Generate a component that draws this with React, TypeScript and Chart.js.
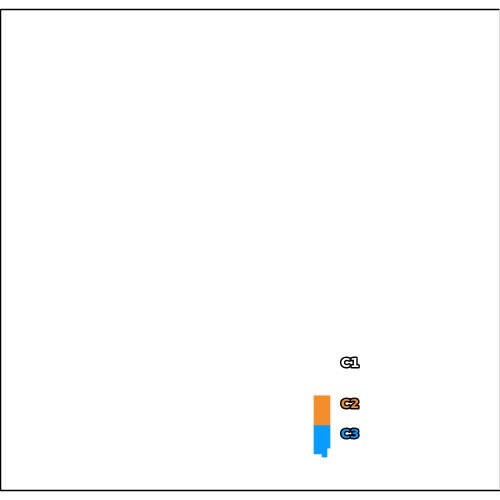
import React, { useEffect, useRef } from "react";
import { Chart, registerables } from "chart.js";

Chart.register(...registerables);

// Series (stack segments) (y axis 0..100)
const seriesLabels = ["C1", "C2", "C3"];
const seriesColors = ["#ffffff", "#f28e2b", "#0a9bff"];
const seriesX = [322, 322, 322];
const seriesLow = [19.9, 13.7, 8.9];
const seriesHigh = [28.4, 19.9, 13.7];

// Small extra pieces at the bottom of C3
const tailX = [318, 324.5];
const tailLow = [7.7, 7.05];
const tailHigh = [8.9, 8.9];
const tailWidth = [8, 5];

const labelPlugin = {
  id: "segLabels",
  afterDatasetsDraw(chart: any) {
    const ctx = chart.ctx;
    ctx.save();
    ctx.font = "bold 13px 'DejaVu Sans'";
    ctx.textAlign = "center";
    ctx.textBaseline = "middle";
    ctx.lineJoin = "round";
    chart.data.datasets.forEach((ds: any, i: number) => {
      if (!ds.segLabel) return;
      const el = chart.getDatasetMeta(i).data[0];
      if (!el) return;
      const tx = el.x + el.width / 2 + 20;
      const ty = el.y + 10;
      ctx.lineWidth = 3;
      ctx.strokeStyle = "#000";
      ctx.strokeText(ds.segLabel, tx, ty);
      ctx.fillStyle = ds.backgroundColor;
      ctx.fillText(ds.segLabel, tx, ty);
    });
    ctx.restore();
  },
};

const framePlugin = {
  id: "frame",
  afterDraw(chart: any) {
    const { ctx, chartArea } = chart;
    ctx.save();
    ctx.strokeStyle = "#000";
    ctx.lineWidth = 1.5;
    ctx.beginPath();
    ctx.moveTo(chartArea.left + 0.5, chartArea.top + 0.5);
    ctx.lineTo(chartArea.right - 0.5, chartArea.top + 0.5);
    ctx.moveTo(chartArea.left + 0.5, chartArea.top);
    ctx.lineTo(chartArea.left + 0.5, chartArea.bottom);
    ctx.moveTo(chartArea.left, chartArea.bottom - 0.5);
    ctx.lineTo(chartArea.right, chartArea.bottom - 0.5);
    ctx.stroke();
    ctx.strokeStyle = "#dddddd";
    ctx.lineWidth = 1;
    ctx.beginPath();
    ctx.moveTo(chartArea.right - 0.5, chartArea.top + 1);
    ctx.lineTo(chartArea.right - 0.5, chartArea.bottom - 1);
    ctx.stroke();
    ctx.restore();
  },
};

export default function App() {
  const ref = useRef<HTMLCanvasElement>(null);
  useEffect(() => {
    if (!ref.current) return;
    const datasets: any[] = seriesLabels.map((lab, i) => ({
      label: lab,
      segLabel: lab,
      data: [{ x: seriesX[i], y: [seriesLow[i], seriesHigh[i]] }],
      backgroundColor: seriesColors[i],
      borderWidth: 0,
      barThickness: 16,
      grouped: false,
    }));
    tailX.forEach((x, i) => {
      datasets.push({
        label: "C3 tail " + i,
        data: [{ x, y: [tailLow[i], tailHigh[i]] }],
        backgroundColor: seriesColors[2],
        borderWidth: 0,
        barThickness: tailWidth[i],
        grouped: false,
      });
    });
    const chart = new Chart(ref.current, {
      type: "bar",
      data: { datasets },
      options: {
        animation: false,
        responsive: false,
        devicePixelRatio: 1,
        layout: { padding: { top: 9, bottom: 9, left: 0, right: 0 } },
        plugins: { legend: { display: false }, tooltip: { enabled: false } },
        scales: {
          x: { type: "linear", min: 0, max: 500, display: false, offset: false },
          y: { type: "linear", min: 0, max: 100, display: false },
        },
      },
      plugins: [labelPlugin, framePlugin],
    });
    return () => chart.destroy();
  }, []);
  return (
    <div style={{ position: "absolute", left: 0, top: 0, width: 500, height: 500 }}>
      <canvas ref={ref} width={500} height={500} />
    </div>
  );
}
